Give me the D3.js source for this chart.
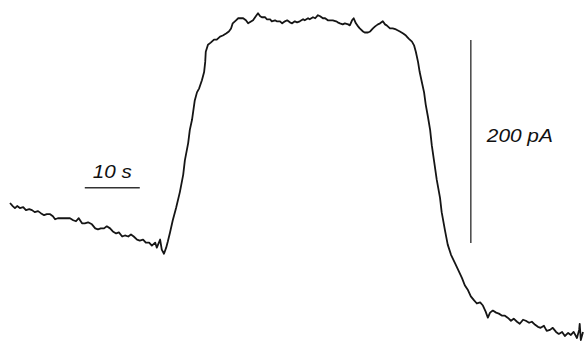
<!DOCTYPE html>
<html>
<head>
<meta charset="utf-8">
<script src="https://cdn.jsdelivr.net/npm/d3@7"></script>
<style>
    body { margin: 0; background: #fff; }
</style>
</head>
<body>
<svg id="trace"></svg>
<script>
// time (s) and current (pA, relative to start of trace)
var timeS = [0, 0.5, 0.9, 1.3, 1.8, 2.4, 2.9, 3.5, 4.0, 4.5, 5.1, 5.6, 6.2, 6.7, 7.3, 7.8, 8.2, 8.7, 9.3, 9.8,
    10.4, 10.9, 11.5, 12.0, 12.5, 13.1, 13.6, 14.2, 14.9, 15.5, 16.0, 16.5, 17.1, 17.6, 18.2, 18.7, 19.3, 19.8,
    20.4, 20.9, 21.5, 22.0, 22.5, 23.1, 23.6, 24.2, 24.7, 25.3, 25.8, 26.4, 26.7, 27.3, 27.6, 28.0, 28.4, 28.7,
    29.1, 29.6, 30.2, 30.9, 31.5, 31.8, 32.4, 32.7, 33.1, 33.6, 34.0, 34.4, 34.9, 35.3, 35.5, 35.6, 36.0, 36.5,
    37.1, 37.6, 38.2, 38.7, 39.3, 39.8, 40.2, 40.5, 41.1, 41.5, 42.4, 42.9, 43.3, 43.6, 44.2, 44.7, 45.1, 45.5,
    45.8, 46.4, 46.7, 47.3, 47.6, 48.2, 48.5, 49.1, 49.5, 50.0, 50.4, 50.9, 51.3, 51.8, 52.2, 52.7, 53.3, 53.6,
    54.2, 54.5, 55.1, 55.5, 56.0, 56.4, 56.9, 57.3, 57.8, 58.2, 58.7, 59.3, 59.6, 60.0, 60.5, 60.9, 61.5, 61.8,
    62.2, 62.5, 62.9, 63.3, 63.6, 64.2, 64.5, 65.1, 65.5, 66.0, 66.4, 66.9, 67.3, 67.8, 68.2, 68.5, 69.1, 69.6,
    70.2, 70.9, 71.5, 72.0, 72.5, 73.1, 73.5, 73.8, 74.2, 74.5, 74.9, 75.3, 75.6, 76.0, 76.4, 76.7, 77.1, 77.6,
    78.2, 78.5, 79.1, 79.6, 80.2, 80.9, 81.5, 82.2, 82.7, 83.3, 83.8, 84.4, 84.9, 85.5, 86.0, 86.5, 86.9, 87.3,
    87.8, 88.4, 88.9, 89.5, 90.0, 90.5, 91.1, 91.6, 92.2, 92.7, 93.3, 93.8, 94.4, 94.9, 95.5, 96.0, 96.5, 97.1,
    97.6, 98.2, 98.7, 99.3, 99.8, 100.4, 100.9, 101.5, 102.0, 102.5, 103.1, 103.5, 103.6, 103.8, 104.2];

var currentPA = [0, -3, -5, -3, -5, -4, -7, -6, -7, -9, -8, -10, -12, -11, -11, -13, -16, -15, -15, -15,
    -15, -15, -17, -18, -15, -20, -20, -19, -21, -25, -26, -25, -25, -23, -25, -28, -30, -29,
    -33, -32, -33, -31, -33, -36, -37, -36, -39, -39, -42, -39, -44, -36, -46, -50, -44, -38,
    -29, -17, -5, 11, 28, 42, 59, 72, 82, 101, 109, 113, 121, 129, 139, 149, 156, 158,
    161, 161, 164, 165, 167, 169, 172, 177, 180, 182, 182, 180, 177, 178, 180, 184, 187, 184,
    183, 183, 181, 181, 179, 180, 179, 179, 177, 179, 180, 178, 177, 179, 178, 179, 181, 180,
    182, 181, 183, 182, 185, 184, 182, 182, 180, 180, 180, 179, 178, 177, 176, 177, 176, 175,
    180, 182, 177, 174, 172, 169, 168, 168, 169, 172, 174, 176, 177, 179, 176, 175, 172, 172,
    171, 169, 167, 165, 162, 159, 155, 149, 139, 129, 119, 109, 97, 85, 72, 57, 42, 23,
    5, -9, -27, -41, -51, -59, -66, -74, -81, -86, -92, -96, -99, -98, -101, -107, -113, -108,
    -106, -108, -109, -111, -111, -113, -116, -114, -117, -119, -115, -116, -118, -117, -120, -122, -123, -121,
    -126, -125, -123, -127, -129, -127, -131, -128, -130, -127, -133, -125, -119, -135, -127];

// scale bars: [start, length] in data units
var timeBar = { t: 13.6, i: 15, len: 10, label: "10 s" };
var currentBar = { t: 83.8, i: -39.4, len: 200, label: "200 pA" };

var width = 585, height = 344;

var svg = d3.select("#trace")
    .attr("width", width)
    .attr("height", height);

var x = d3.scaleLinear().domain([0, 104.2]).range([10, 583]);
var y = d3.scaleLinear().domain([0, 200]).range([203, 0]);

var points = timeS.map(function (t, i) {
    return [t, currentPA[i]];
});

var line = d3.line()
    .x(function (d) { return x(d[0]); })
    .y(function (d) { return y(d[1]); });

svg.append("path")
    .datum(points)
    .attr("d", line)
    .attr("fill", "none")
    .attr("stroke", "#151515")
    .attr("stroke-width", 1.8)
    .attr("stroke-linejoin", "round");

//horizontal scale bar
svg.append("line")
    .attr("x1", x(timeBar.t))
    .attr("x2", x(timeBar.t + timeBar.len))
    .attr("y1", y(timeBar.i))
    .attr("y2", y(timeBar.i))
    .attr("stroke", "#333")
    .attr("stroke-width", 1.4);

svg.append("text")
    .attr("x", x(timeBar.t) + 8)
    .attr("y", y(timeBar.i) - 10)
    .attr("textLength", 39)
    .attr("lengthAdjust", "spacingAndGlyphs")
    .style("font-family", "'Liberation Sans', Arial, sans-serif")
    .style("font-style", "italic")
    .style("font-size", "18.5px")
    .style("fill", "#111")
    .text(timeBar.label);

//vertical scale bar
svg.append("line")
    .attr("x1", x(currentBar.t))
    .attr("x2", x(currentBar.t))
    .attr("y1", y(currentBar.i))
    .attr("y2", y(currentBar.i + currentBar.len))
    .attr("stroke", "#444")
    .attr("stroke-width", 1.5);

svg.append("text")
    .attr("x", x(currentBar.t) + 16)
    .attr("y", 142)
    .attr("textLength", 66)
    .attr("lengthAdjust", "spacingAndGlyphs")
    .style("font-family", "'Liberation Sans', Arial, sans-serif")
    .style("font-style", "italic")
    .style("font-size", "18.5px")
    .style("fill", "#111")
    .text(currentBar.label);
</script>
</body>
</html>
